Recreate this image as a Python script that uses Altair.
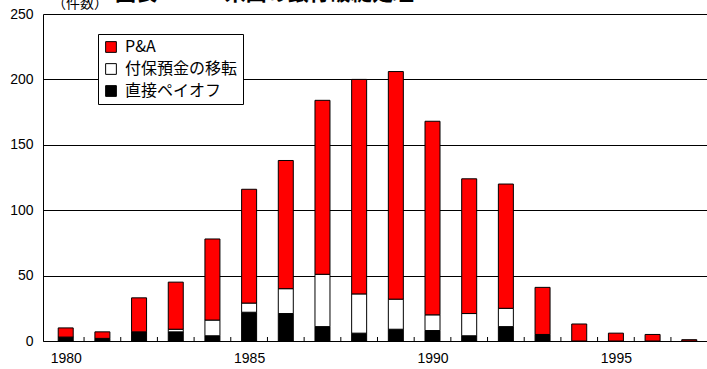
import altair as alt
import pandas as pd

years = list(range(1980, 1998))
totals = [10, 7, 33, 45, 78, 116, 138, 184, 200, 206, 168, 124, 120, 41, 13, 6, 5, 1]
payoff = [3, 2, 7, 7, 4, 22, 21, 11, 6, 9, 8, 4, 11, 5, 0, 0, 0, 0]
transfer = [0, 0, 0, 2, 12, 7, 19, 40, 30, 23, 12, 17, 14, 0, 0, 0, 0, 0]
pa = [7, 5, 26, 36, 62, 87, 98, 133, 164, 174, 148, 103, 95, 36, 13, 6, 5, 1]

series_names = ["P&A", "付保預金の移転", "直接ペイオフ"]
series_colors = ["#ff0000", "#ffffff", "#000000"]
x_labels = [1980, 1985, 1990, 1995]
y_ticks = [0, 50, 100, 150, 200, 250]
unit_label = "（件数）"
title_text = "図表１－２ 米国の銀行破綻処理"

rows = []
for i, yr in enumerate(years):
    for order, (name, vals) in enumerate([("直接ペイオフ", payoff), ("付保預金の移転", transfer), ("P&A", pa)]):
        if vals[i] > 0:
            rows.append({"year": yr, "series": name, "value": vals[i], "ord": order})
df = pd.DataFrame(rows)

xscale = alt.Scale(domain=[1979.517, 1997.347], nice=False, zero=False)
xaxis = alt.Axis(values=x_labels, format="d", tickSize=0, labelPadding=10,
                 grid=False, domainColor="#000000", labelFontSize=14,
                 labelFont="Liberation Sans", labelColor="#000000", title=None)

bars = alt.Chart(df).mark_bar(size=15, stroke="#000000", strokeWidth=1).encode(
    x=alt.X("year:Q", scale=xscale, axis=xaxis, title=None),
    y=alt.Y("value:Q", stack="zero",
            scale=alt.Scale(domain=[0, 250], nice=False),
            axis=alt.Axis(values=y_ticks, tickSize=0, labelPadding=10, grid=True,
                          gridColor="#000000", gridOpacity=1, gridWidth=1,
                          domainColor="#000000", labelFontSize=14,
                          labelFont="Liberation Sans", labelColor="#000000", title=None)),
    color=alt.Color("series:N",
                    scale=alt.Scale(domain=series_names, range=series_colors),
                    legend=alt.Legend(orient="none", legendX=55, legendY=20, title=None,
                                      strokeColor="#000000", fillColor="#ffffff", padding=5,
                                      symbolType="square", symbolSize=115,
                                      symbolStrokeColor="#000000", symbolStrokeWidth=1,
                                      labelFontSize=16, labelFont="Noto Sans CJK JP",
                                      labelColor="#000000", rowPadding=6, labelOffset=6)),
    order=alt.Order("ord:Q"),
)

bounds = pd.DataFrame({"year": [y + 0.5 for y in years[:-1]]})
ticks = alt.Chart(bounds).mark_rule(color="#000000", strokeWidth=1).encode(
    x=alt.X("year:Q", scale=xscale, axis=xaxis, title=None),
    y=alt.value(323),
    y2=alt.value(327),
)

unit = alt.Chart(pd.DataFrame({"t": [unit_label]})).mark_text(
    align="left", baseline="alphabetic", fontSize=14, font="Noto Sans CJK JP", color="#000000"
).encode(text="t:N", x=alt.value(9), y=alt.value(-6))

title = alt.Chart(pd.DataFrame({"t": [title_text]})).mark_text(
    align="left", baseline="alphabetic", fontSize=21, fontWeight="bold",
    font="Noto Sans CJK JP", color="#000000"
).encode(text="t:N", x=alt.value(72), y=alt.value(-14))

chart = alt.layer(bars, ticks, unit, title).properties(
    width=664, height=327,
    autosize=alt.AutoSizeParams(type="none"),
    padding={"left": 43, "top": 14, "right": 0, "bottom": 28},
    background="#ffffff",
).configure_view(stroke=None)

chart.save("out.html", embed_options={"renderer": "svg", "actions": False})
